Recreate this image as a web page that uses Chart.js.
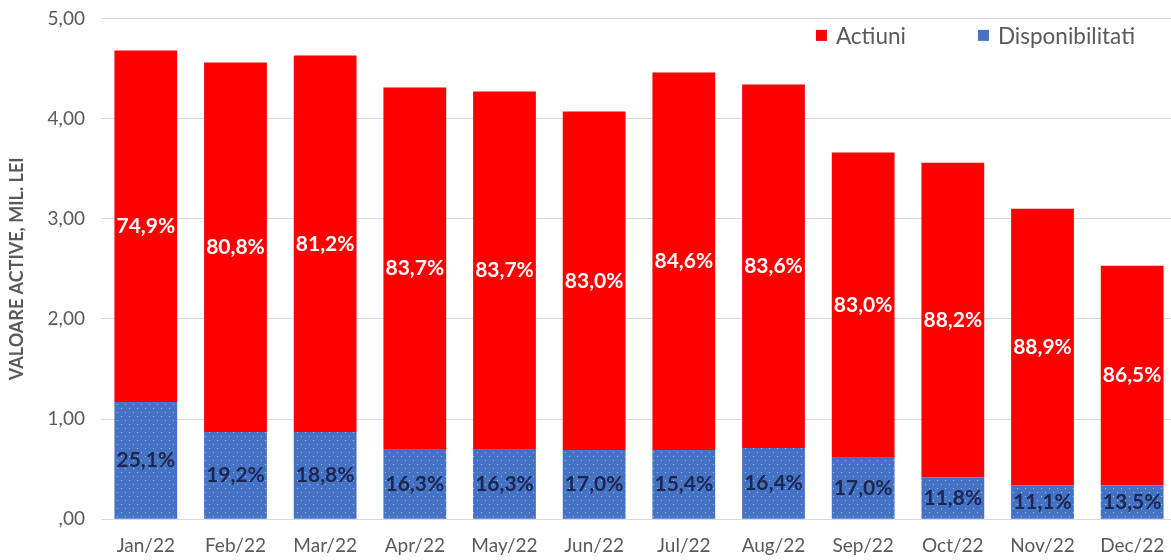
<!DOCTYPE html>
<html>
<head>
<meta charset="utf-8">
<script src="https://cdn.jsdelivr.net/npm/chart.js@4.4.1/dist/chart.umd.min.js"></script>
<style>
    html, body { margin: 0; padding: 0; background: #fff; overflow: hidden; }
    #wrap { width: 1177px; height: 573px; margin-top: -9px; }
</style>
</head>
<body>
<div id="wrap"><canvas id="chart"></canvas></div>
<script>
    // Date grafic
    const months = ['Jan/22', 'Feb/22', 'Mar/22', 'Apr/22', 'May/22', 'Jun/22',
                    'Jul/22', 'Aug/22', 'Sep/22', 'Oct/22', 'Nov/22', 'Dec/22'];
    const disponibilitati = [1.17, 0.87, 0.87, 0.70, 0.70, 0.69, 0.69, 0.71, 0.62, 0.42, 0.34, 0.34];
    const actiuni = [3.51, 3.69, 3.76, 3.61, 3.57, 3.38, 3.77, 3.63, 3.04, 3.14, 2.76, 2.19];
    const actiuniPct = ['74,9%', '80,8%', '81,2%', '83,7%', '83,7%', '83,0%',
                        '84,6%', '83,6%', '83,0%', '88,2%', '88,9%', '86,5%'];
    const disponibilitatiPct = ['25,1%', '19,2%', '18,8%', '16,3%', '16,3%', '17,0%',
                                '15,4%', '16,4%', '17,0%', '11,8%', '11,1%', '13,5%'];
    const yTicks = [0, 1, 2, 3, 4, 5];

    const FONT = 'Lato, "Open Sans", sans-serif';
    const BLUE = '#4472C4';
    const RED = '#FF0000';
    const GREY = '#595959';

    // model punctat pentru disponibilitati
    function dotPattern() {
        const c = document.createElement('canvas');
        c.width = 8;
        c.height = 8;
        const g = c.getContext('2d');
        g.fillStyle = BLUE;
        g.fillRect(0, 0, 8, 8);
        g.fillStyle = 'rgba(255,255,255,0.55)';
        g.fillRect(1, 1, 1, 1);
        g.fillRect(5, 5, 1, 1);
        return g.createPattern(c, 'repeat');
    }

    // etichete procentuale in interiorul barelor
    const pctLabels = {
        id: 'pctLabels',
        afterDatasetsDraw(chart) {
            const ctx = chart.ctx;
            ctx.save();
            ctx.font = 'bold 21px ' + FONT;
            ctx.textAlign = 'center';
            ctx.textBaseline = 'middle';
            chart.data.datasets.forEach((ds, i) => {
                const meta = chart.getDatasetMeta(i);
                meta.data.forEach((bar, j) => {
                    const y = (bar.y + bar.base) / 2;
                    ctx.fillStyle = ds.labelColor;
                    ctx.fillText(ds.pct[j], bar.x, y);
                });
            });
            ctx.restore();
        }
    };

    // legenda in coltul din dreapta sus, peste zona graficului
    const cornerLegend = {
        id: 'cornerLegend',
        afterDraw(chart) {
            const ctx = chart.ctx;
            const items = chart.data.datasets.slice().reverse();
            const box = 11, gapBox = 9, gapItem = 72;
            const y = chart.chartArea.top + 17;
            ctx.save();
            ctx.font = '22.5px ' + FONT;
            ctx.textBaseline = 'middle';
            let x = chart.chartArea.right - 42;
            const widths = items.map(ds => ctx.measureText(ds.label).width);
            const total = widths.reduce((a, w) => a + box + gapBox + w, 0) + gapItem * (items.length - 1);
            x -= total;
            items.forEach((ds, k) => {
                ctx.fillStyle = ds.legendColor;
                ctx.fillRect(x, y - box / 2, box, box);
                x += box + gapBox;
                ctx.fillStyle = GREY;
                ctx.fillText(ds.label, x, y + 1);
                x += widths[k] + gapItem;
            });
            ctx.restore();
        }
    };

    new Chart(document.getElementById('chart').getContext('2d'), {
        type: 'bar',
        data: {
            labels: months,
            datasets: [
                {
                    label: 'Disponibilitati',
                    data: disponibilitati,
                    pct: disponibilitatiPct,
                    labelColor: '#1c2650',
                    legendColor: BLUE,
                    backgroundColor: dotPattern(),
                    borderWidth: 0
                },
                {
                    label: 'Actiuni',
                    data: actiuni,
                    pct: actiuniPct,
                    labelColor: '#ffffff',
                    legendColor: RED,
                    backgroundColor: RED,
                    borderWidth: 0
                }
            ]
        },
        options: {
            responsive: true,
            maintainAspectRatio: false,
            animation: false,
            layout: { padding: { top: 6, right: 0, bottom: 0, left: 6 } },
            datasets: {
                bar: { categoryPercentage: 1.0, barPercentage: 0.7 }
            },
            scales: {
                x: {
                    stacked: true,
                    grid: { display: false },
                    border: { display: false },
                    ticks: {
                        color: GREY,
                        font: { family: FONT, size: 19 },
                        padding: 7
                    }
                },
                y: {
                    stacked: true,
                    min: 0,
                    max: 5,
                    afterBuildTicks: (axis) => {
                        axis.ticks = yTicks.map(v => ({ value: v }));
                    },
                    grid: { color: '#d9d9d9', drawTicks: false },
                    border: { display: false },
                    ticks: {
                        color: GREY,
                        font: { family: FONT, size: 19 },
                        padding: 16,
                        callback: (v) => v === 0 ? ',00' : v.toFixed(2).replace('.', ',')
                    },
                    title: {
                        display: true,
                        text: 'VALOARE ACTIVE, MIL. LEI',
                        color: GREY,
                        font: { family: FONT, size: 18, weight: 'bold' },
                        padding: { top: 0, bottom: 4 }
                    }
                }
            },
            plugins: {
                legend: { display: false },
                tooltip: { enabled: false }
            }
        },
        plugins: [pctLabels, cornerLegend]
    });
</script>
</body>
</html>
